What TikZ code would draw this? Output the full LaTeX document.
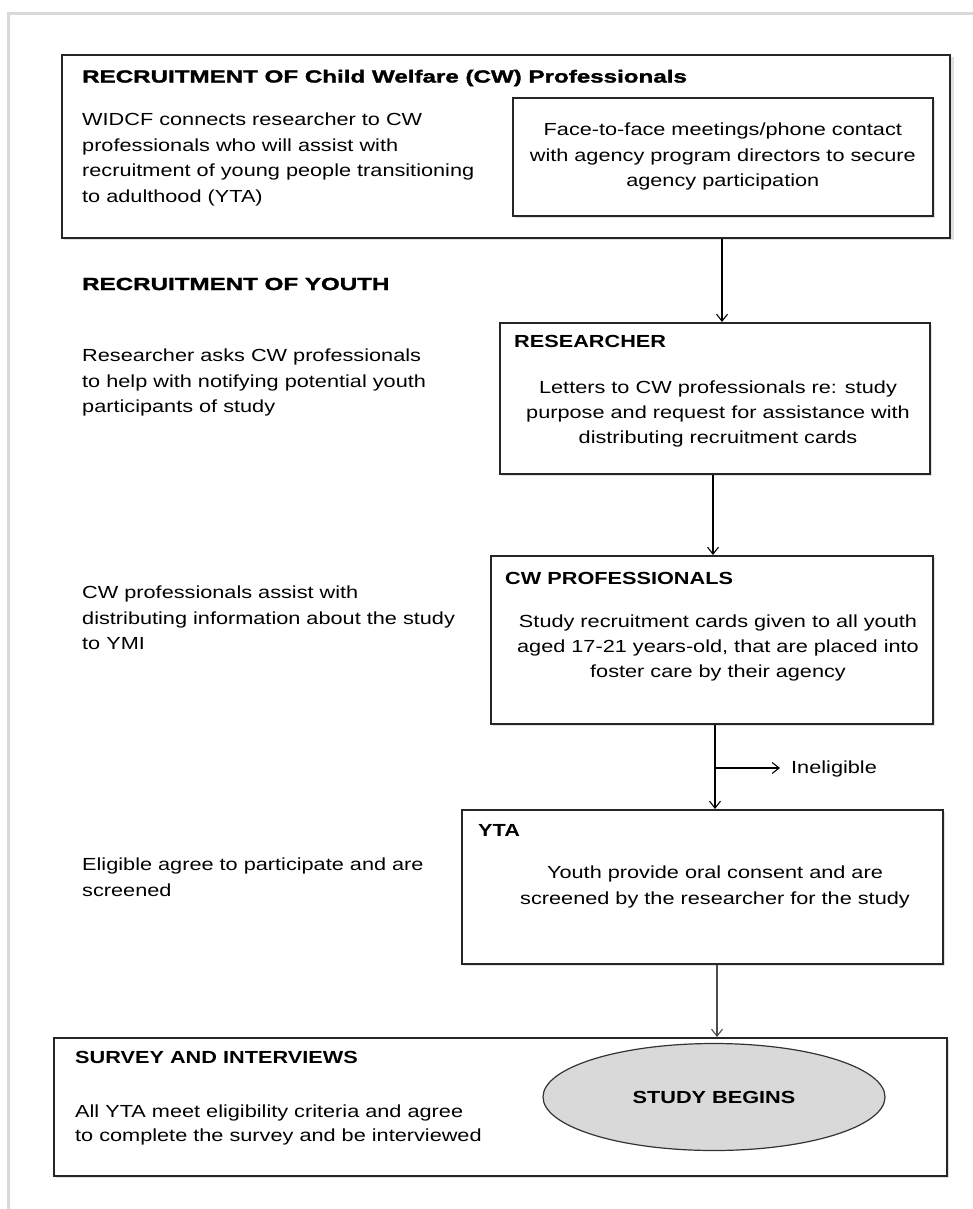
\documentclass[tikz,border=0pt]{standalone}
\usepackage{fontspec}
\setmainfont[FakeStretch=1.24]{Liberation Sans}
\newfontfamily\blackfont[FakeStretch=1.38, FakeBold=1.6]{Liberation Sans Bold}
\usetikzlibrary{arrows.meta,shapes.geometric}

\definecolor{framegray}{HTML}{D9D9D9}
\definecolor{ovalgray}{HTML}{D9D9D9}

\tikzset{
  panel/.style={draw=black!85, line width=1.6pt, fill=white},
  shade/.style={fill=black!12},
  body/.style={inner sep=0pt, font=\fontsize{17.5}{25.4}\selectfont},
  lefttext/.style={body, align=left, anchor=north west},
  midtext/.style={body, align=center},
  heading/.style={inner sep=0pt, anchor=west, font=\fontsize{17.5}{21}\selectfont\bfseries},
  bigheading/.style={inner sep=0pt, anchor=west, font=\fontsize{17.5}{21}\selectfont\blackfont},
  flow/.style={line width=1.1pt, -{Straight Barb[length=7pt,width=11pt,line width=1.1pt]}},
}

\begin{document}
\begin{tikzpicture}[x=1pt,y=-1pt]
  \useasboundingbox (0,0) rectangle (973,1209);
  \fill[white] (0,0) rectangle (973,1209);

  % page frame
  \draw[framegray, line width=3pt] (8,1209) -- (8,14) -- (973,14);

  % --- Recruitment of CW professionals ---
  \fill[shade] (64,57) rectangle (954,240);
  \node[panel, minimum width=888pt, minimum height=183pt, anchor=north west] (cwbox) at (61,54) {};
  \node[bigheading] (cwhead) at (82,78) {RECRUITMENT OF Child Welfare (CW) Professionals};
  \node[lefttext] (cwtext) at (82,113) {WIDCF connects researcher to CW\\professionals who will assist with\\recruitment of young people transitioning\\to adulthood (YTA)};
  \fill[shade] (515,100) rectangle (935,218);
  \node[panel, minimum width=420pt, minimum height=118pt, anchor=north west] (meet) at (512,97) {};
  \node[midtext] (meettext) at (meet.center) {Face-to-face meetings/phone contact\\with agency program directors to secure\\agency participation};

  % --- Recruitment of youth ---
  \node[bigheading] (youthhead) at (82,284) {RECRUITMENT OF YOUTH};

  \node[lefttext] (restext) at (82,349) {Researcher asks CW professionals\\to help with notifying potential youth\\participants of study};
  \fill[shade] (502,325) rectangle (932,476);
  \node[panel, minimum width=430pt, minimum height=151pt, anchor=north west] (researcher) at (499,322) {};
  \node[heading] (reshead) at (514,341) {RESEARCHER};
  \node[midtext] (resbody) at (718,414) {Letters to CW professionals re: study\\purpose and request for assistance with\\distributing recruitment cards};

  \node[lefttext] (protext) at (82,586) {CW professionals assist with\\distributing information about the study\\to YMI};
  \fill[shade] (493,558) rectangle (935,726);
  \node[panel, minimum width=442pt, minimum height=168pt, anchor=north west] (profs) at (490,555) {};
  \node[heading] (profhead) at (505,578) {CW PROFESSIONALS};
  \node[midtext] (profbody) at (718,648) {Study recruitment cards given to all youth\\aged 17-21 years-old, that are placed into\\foster care by their agency};

  \node[lefttext] (eligtext) at (82,858) {Eligible agree to participate and are\\screened};
  \fill[shade] (464,812) rectangle (945,966);
  \node[panel, minimum width=481pt, minimum height=154pt, anchor=north west] (yta) at (461,809) {};
  \node[heading] (ytahead) at (478,830) {YTA};
  \node[midtext] (ytabody) at (715,887) {Youth provide oral consent and are\\screened by the researcher for the study};

  % --- Survey and interviews ---
  \fill[shade] (56,1040) rectangle (949,1178);
  \node[panel, minimum width=893pt, minimum height=138pt, anchor=north west] (survey) at (53,1037) {};
  \node[heading] (survhead) at (75,1057) {SURVEY AND INTERVIEWS};
  \node[lefttext, font=\fontsize{17.5}{23.5}\selectfont] (survtext) at (75,1105) {All YTA meet eligibility criteria and agree\\to complete the survey and be interviewed};
  \node[ellipse, draw=black!80, line width=1.2pt, fill=ovalgray, minimum width=342pt, minimum height=107pt,
        font=\fontsize{17.5}{21}\selectfont\bfseries] (begins) at (714,1097) {STUDY BEGINS};

  % --- connectors ---
  \draw[flow] (cwbox.south -| 722,0) -- (researcher.north -| 722,0);
  \draw[flow] (researcher.south -| 713,0) -- (profs.north -| 713,0);
  \draw[flow] (profs.south -| 715,0) -- (yta.north -| 715,0);
  \coordinate (split) at (715,768);
  \coordinate (ineligtip) at (780,768);
  \node[inner sep=0pt, anchor=west, font=\fontsize{17.5}{21}\selectfont] (inelig) at (791,769) {Ineligible};
  \draw[flow] (split) -- (ineligtip);
  \draw[flow, draw=black!70] (yta.south -| 717,0) -- (survey.north -| 717,0);
\end{tikzpicture}
\end{document}
